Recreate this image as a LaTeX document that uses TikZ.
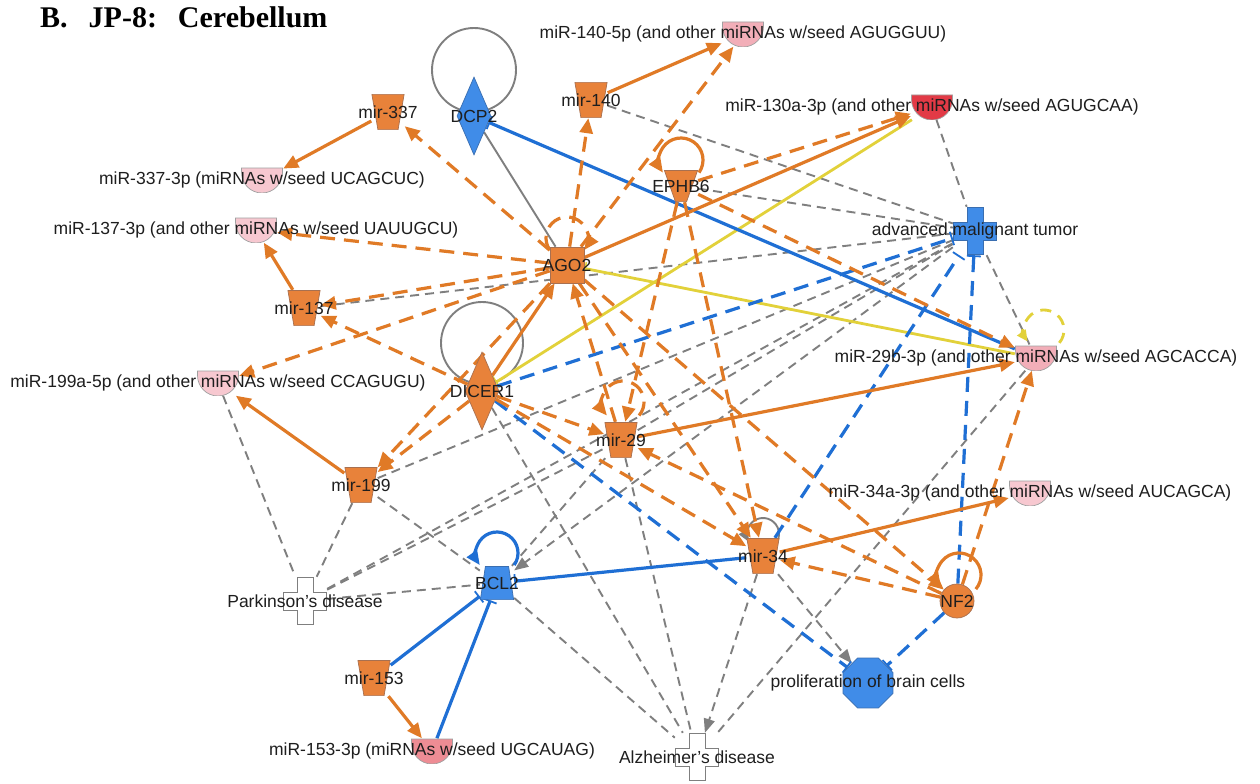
\documentclass[tikz,border=0pt]{standalone}
\usepackage{fontspec}
\setmainfont{Liberation Sans}
\newfontfamily\titlefont{Liberation Serif}
\usetikzlibrary{shapes.geometric,arrows.meta,calc,backgrounds}
\definecolor{orl}{HTML}{E07A26}
\definecolor{orn}{HTML}{E8823A}
\definecolor{ornb}{HTML}{A87050}
\definecolor{bll}{HTML}{1F6FD4}
\definecolor{bln}{HTML}{408CE8}
\definecolor{blnb}{HTML}{3A6EB0}
\definecolor{gry}{HTML}{7F7F7F}
\definecolor{yel}{HTML}{E2D13A}
\definecolor{pk}{HTML}{F7C8D0}
\definecolor{pk2}{HTML}{F2AEB8}
\definecolor{rd}{HTML}{E23A46}
\definecolor{sal}{HTML}{EE8C94}
\definecolor{txt}{HTML}{1E1E1E}
\definecolor{nb}{HTML}{A0A0A0}
\tikzset{
  lbl/.style={font=\fontsize{17.5bp}{20bp}\selectfont, text=txt, inner sep=0pt},
  txtc/.style={label={[lbl]center:{#1}}},
  trap/.style n args={6}{rectangle, minimum width=#1, minimum height=#2, inner sep=0pt,
    path picture={\filldraw[fill=#5, draw=#6, line width=0.7bp]
      ([shift={(#3+0.4bp,-0.4bp)}]path picture bounding box.north west)
      -- ([shift={(-#3-0.4bp,-0.4bp)}]path picture bounding box.north east)
      -- ([shift={(-#4-0.4bp,0.4bp)}]path picture bounding box.south east)
      -- ([shift={(#4+0.4bp,0.4bp)}]path picture bounding box.south west) -- cycle;}},
  mir/.style={trap={33bp}{36bp}{0bp}{6bp}{orn}{ornb}},
  kin/.style={trap={34bp}{32bp}{0bp}{11bp}{orn}{ornb}},
  bcl/.style={trap={34bp}{34bp}{5bp}{0bp}{bln}{blnb}},
  dia/.style={diamond, minimum width=34bp, minimum height=78bp, inner sep=0pt, line width=0.7bp},
  sq/.style={rectangle, minimum width=34bp, minimum height=36bp, inner sep=0pt,
    fill=orn, draw=ornb, line width=0.7bp},
  circ/.style={circle, minimum size=34bp, inner sep=0pt, fill=orn, draw=ornb, line width=0.7bp},
  oct/.style={regular polygon, regular polygon sides=8, minimum size=54bp, inner sep=0pt,
    fill=bln, draw=blnb, line width=0.7bp},
  bowl/.style={rectangle, minimum width=42bp, minimum height=25bp, inner sep=0pt,
    path picture={\filldraw[fill=#1, draw=nb, line width=0.7bp]
      ([xshift=0.5bp,yshift=-0.5bp]path picture bounding box.north west)
      -- ([xshift=-0.5bp,yshift=-0.5bp]path picture bounding box.north east)
      -- ++(0,-4.5bp) arc[start angle=0,end angle=-180,radius=20.5bp] -- cycle;}},
  crossn/.style 2 args={rectangle, minimum width=44bp, minimum height=48bp, inner sep=0pt,
    path picture={\filldraw[fill=#1, draw=#2, line width=0.8bp]
      ([shift={(-8bp,23.5bp)}]path picture bounding box.center)
      -- ++(16bp,0) -- ++(0,-14.5bp) -- ++(13.5bp,0) -- ++(0,-18bp) -- ++(-13.5bp,0)
      -- ++(0,-14.5bp) -- ++(-16bp,0) -- ++(0,14.5bp) -- ++(-13.5bp,0) -- ++(0,18bp)
      -- ++(13.5bp,0) -- cycle;}},
  os/.style={draw=orl, line width=3.2bp, -{Triangle[length=15bp,width=13bp]}},
  od/.style={os, dash pattern=on 15bp off 9bp},
  gs/.style={draw=gry, line width=1.9bp},
  gd/.style={gs, dash pattern=on 9bp off 6bp},
  gda/.style={gd, -{Triangle[length=14bp,width=11bp]}},
  gsa/.style={gs, -{Triangle[length=12bp,width=10bp]}},
  bs/.style={draw=bll, line width=3.2bp, -{Bar[width=14bp,line width=1.8bp]}},
  bd/.style={bs, dash pattern=on 15bp off 9bp},
  bsa/.style={draw=bll, line width=3.2bp, -{Triangle[length=14bp,width=12bp]}},
  ys/.style={draw=yel, line width=2.8bp, -{Bar[width=13bp,line width=1.6bp]}},
  yd/.style={draw=yel, line width=2.8bp, dash pattern=on 11bp off 8bp, -{Triangle[length=11bp,width=10bp]}}
}
\begin{document}
\begin{tikzpicture}[x=1bp,y=-1bp]
\useasboundingbox (0,0) rectangle (1260,784);

\node[font=\titlefont\fontsize{30bp}{34bp}\selectfont\bfseries, anchor=base west, inner sep=0pt] (title) at (40,28) {B.\hspace{0.7em}JP-8:\hspace{0.7em}Cerebellum};

% nodes
\node[dia, fill=bln, draw=blnb, txtc=DCP2] (DCP2) at (474,116) {};
\node[mir, txtc=mir-140] (mir140) at (591,100) {};
\node[bowl=pk2, txtc={miR-140-5p (and other miRNAs w/seed AGUGGUU)}] (m140) at (743,34) {};
\node[bowl=rd, txtc={miR-130a-3p (and other miRNAs w/seed AGUGCAA)}] (m130a) at (932,107) {};
\node[mir, txtc=mir-337] (mir337) at (388,112) {};
\node[bowl=pk, txtc={miR-337-3p (miRNAs w/seed UCAGCUC)}] (m337) at (262,180) {};
\node[bowl=pk, txtc={miR-137-3p (and other miRNAs w/seed UAUUGCU)}] (m137) at (256,230) {};
\node[mir, txtc=mir-137] (mir137) at (304,308) {};
\node[sq, txtc=AGO2] (AGO2) at (567,265) {};
\node[kin, txtc=EPHB6] (EPHB6) at (681,186) {};
\node[crossn={bln}{blnb}, txtc={advanced malignant tumor}] (AMT) at (975,231) {};
\node[dia, fill=orn, draw=ornb, txtc=DICER1] (DICER1) at (482,391) {};
\node[bowl=pk, txtc={miR-199a-5p (and other miRNAs w/seed CCAGUGU)}] (m199a) at (218,383) {};
\node[bowl=pk2, txtc={miR-29b-3p (and other miRNAs w/seed AGCACCA)}] (m29b) at (1036,358) {};
\node[mir, txtc=mir-29] (mir29) at (621,440) {};
\node[mir, txtc=mir-199] (mir199) at (361,485) {};
\node[bowl=pk, txtc={miR-34a-3p (and other miRNAs w/seed AUCAGCA)}] (m34a) at (1030,493) {};
\node[mir, txtc=mir-34] (mir34) at (763,556) {};
\node[circ, txtc=NF2] (NF2) at (957,601) {};
\node[oct, txtc={proliferation of brain cells}] (prolif) at (868,683) {};
\node[bcl, txtc=BCL2] (BCL2) at (497,583) {};
\node[crossn={white}{gry}, txtc={Parkinson's disease}] (Park) at (305,601) {};
\node[mir, txtc=mir-153] (mir153) at (374,678) {};
\node[bowl=sal, txtc={miR-153-3p (miRNAs w/seed UGCAUAG)}] (m153) at (432,751) {};
\node[crossn={white}{gry}, txtc={Alzheimer's disease}] (Alz) at (697,757) {};

\begin{scope}[on background layer]
\fill[white] (0,0) rectangle (1260,784);
% grey dashed relations
\draw[gd] (mir140) -- (AMT);
\draw[gd] (EPHB6) -- (AMT);
\draw[gd] (m130a) -- (AMT);
\draw[gd] (AMT) -- (m29b);
\draw[gd] (mir137) -- (AMT);
\draw[gd] (mir199) -- (AMT);
\draw[gd] (mir29) -- (AMT);
\draw[gd] (Park) -- (AMT);
\draw[gd] (mir199) -- (BCL2);
\draw[gd] (mir199) -- (Park);
\draw[gd] (m199a) -- (Park);
\draw[gd] (Park) -- (BCL2);
\draw[gd] (Park) -- (mir29);
\draw[gd] (BCL2) -- (Alz);
\draw[gd] (DICER1) -- (Alz);
\draw[gd] (mir29) -- (Alz);
\draw[gd] (m29b) -- (Alz);
\draw[gd] (mir29) -- (BCL2);
\draw[gda] (AMT) -- (BCL2);
\draw[gda] (mir34) -- (Alz);
\draw[gda] (mir34) -- (prolif);
\draw[gs] (DCP2) -- (AGO2);
% grey loops
\draw[gs] ($(DCP2)+(0,-46)$) circle[radius=42bp];
\draw[gs] ($(DICER1)+(0,-48)$) circle[radius=41bp];
\draw[gsa] ($(mir34)+(0,-22)+(-30:16bp)$) arc[start angle=-30,end angle=210,radius=16bp];
% yellow
\draw[ys] (m130a) -- (DICER1);
\draw[ys] (m29b) -- (AGO2);
\draw[yd] ($(m29b)+(8,-28)+(-40:20bp)$) arc[start angle=-40,end angle=215,radius=20bp];
% blue
\draw[bs] (m29b) -- (DCP2);
\draw[bs] (mir34) -- (BCL2);
\draw[bs] (mir153) -- (BCL2);
\draw[bs] (m153) -- (BCL2);
\draw[bd] (DICER1) -- (AMT);
\draw[bd] (mir34) -- (AMT);
\draw[bd] (NF2) -- (AMT);
\draw[bd] (DICER1) -- (prolif);
\draw[bd] (NF2) -- (prolif);
\draw[bsa] ($(BCL2)+(0,-30)+(-35:21bp)$) arc[start angle=-35,end angle=215,radius=21bp];
% orange solid
\draw[os] (mir140) -- (m140);
\draw[os] (mir337) -- (m337);
\draw[os] (mir137) -- (m137);
\draw[os] (mir199) -- (m199a);
\draw[os] (mir153) -- (m153);
\draw[os] (mir34) -- (m34a);
\draw[os] (mir29) -- (m29b);
\draw[os] (AGO2) -- (m130a);
\draw[os] (DICER1) -- (AGO2);
% orange dashed
\draw[od] (AGO2) -- (m140);
\draw[od] (AGO2) -- (mir140);
\draw[od] (AGO2) -- (mir337);
\draw[od] (AGO2) -- (m137);
\draw[od] (AGO2) -- (mir137);
\draw[od] (AGO2) -- (m199a);
\draw[od] (AGO2) -- (mir199);
\draw[od] (DICER1) -- (mir199);
\draw[od] (DICER1) -- (mir137);
\draw[od] (EPHB6) -- (m130a);
\draw[od] (EPHB6) -- (m29b);
\draw[od] (EPHB6) -- (mir29);
\draw[od] (EPHB6) -- (mir34);
\draw[od] (DICER1) -- (mir29);
\draw[od] (DICER1) -- (mir34);
\draw[od] (AGO2) -- (mir34);
\draw[od] (AGO2) -- (NF2);
\draw[od] (mir29) -- (AGO2);
\draw[od] (NF2) -- (mir29);
\draw[od] (NF2) -- (mir34);
\draw[od] (NF2) -- (m29b);
% orange loops
\draw[od] ($(AGO2)+(0,-27)+(215:21bp)$) arc[start angle=215,end angle=-35,radius=21bp];
\draw[os] ($(EPHB6)+(0,-26)+(-35:22bp)$) arc[start angle=-35,end angle=215,radius=22bp];
\draw[od] ($(mir29)+(2,-38)+(-40:21bp)$) arc[start angle=-40,end angle=220,radius=21bp];
\draw[os] ($(NF2)+(2,-26)+(-40:22bp)$) arc[start angle=-40,end angle=215,radius=22bp];
\end{scope}
\end{tikzpicture}
\end{document}
